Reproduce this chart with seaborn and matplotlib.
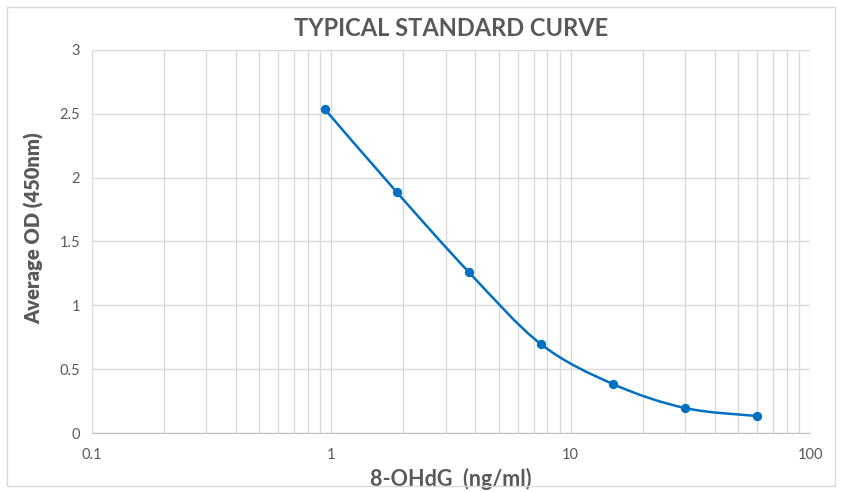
import numpy as np
import pandas as pd
import seaborn as sns
import matplotlib.pyplot as plt
from matplotlib.path import Path
from matplotlib.patches import PathPatch, Rectangle
from matplotlib.ticker import FixedLocator, LogLocator, NullFormatter

# standard curve data
conc = [0.938, 1.875, 3.75, 7.5, 15, 30, 60]
od = [2.537, 1.887, 1.261, 0.697, 0.384, 0.196, 0.133]
x_ticks = [0.1, 1, 10, 100]
x_tick_labels = ["0.1", "1", "10", "100"]
y_ticks = [0, 0.5, 1, 1.5, 2, 2.5, 3]
y_tick_labels = ["0", "0.5", "1", "1.5", "2", "2.5", "3"]

df = pd.DataFrame({"conc": conc, "od": od})

blue = "#0070C0"
grid_c = "#D9D9D9"
text_c = "#595959"

sns.set_style("white")
plt.rcParams["font.family"] = ["Lato", "DejaVu Sans"]

fig = plt.figure(figsize=(8.42, 4.92), dpi=100)
fig.patches.append(Rectangle((0.008, 0.012), 0.984, 0.974, transform=fig.transFigure,
                             fill=False, edgecolor=grid_c, linewidth=1))
ax = fig.add_axes([0.1093, 0.1199, 0.8527, 0.7785])
ax.set_xscale("log")
ax.set_xlim(0.1, 100)
ax.set_ylim(0, 3)

# smoothed line (excel style), bezier control points worked out in log-x / y space
u = np.log10(df["conc"].values) * 239.3
v = df["od"].values * 127.7
pts = np.column_stack([u, v])
verts = [pts[0]]
codes = [Path.MOVETO]
n = len(pts)
for i in range(n - 1):
    p0 = pts[i - 1] if i > 0 else pts[i]
    p3 = pts[i + 2] if i + 2 < n else pts[i + 1]
    c1 = pts[i] + (pts[i + 1] - p0) / 6
    c2 = pts[i + 1] - (p3 - pts[i]) / 6
    verts += [c1, c2, pts[i + 1]]
    codes += [Path.CURVE4] * 3
verts = np.array(verts)
verts_data = np.column_stack([10 ** (verts[:, 0] / 239.3), verts[:, 1] / 127.7])
ax.add_patch(PathPatch(Path(verts_data, codes), facecolor="none", edgecolor=blue,
                       linewidth=1.8, zorder=3))

sns.scatterplot(data=df, x="conc", y="od", ax=ax, color=blue, s=45,
                edgecolor=blue, linewidth=0, zorder=4)

ax.xaxis.set_major_locator(FixedLocator(x_ticks))
ax.set_xticklabels(x_tick_labels)
ax.xaxis.set_minor_locator(LogLocator(base=10, subs=np.arange(2, 10)))
ax.xaxis.set_minor_formatter(NullFormatter())
ax.set_yticks(y_ticks)
ax.set_yticklabels(y_tick_labels)

ax.grid(True, which="both", axis="x", color=grid_c, linewidth=1)
ax.grid(True, which="major", axis="y", color=grid_c, linewidth=1)
ax.set_axisbelow(True)
for s in ax.spines.values():
    s.set_visible(False)
ax.spines["bottom"].set_visible(True)
ax.spines["bottom"].set_color("#BFBFBF")

ax.tick_params(axis="both", which="major", length=5, width=1, color="#BFBFBF",
               labelcolor=text_c, labelsize=10.5, direction="out")
ax.tick_params(axis="x", which="minor", length=0)
ax.tick_params(axis="x", pad=6)

ax.set_title("TYPICAL STANDARD CURVE", fontsize=17, fontweight="bold", color=text_c, pad=10)
ax.set_xlabel("8-OHdG  (ng/ml)", fontsize=15.5, fontweight="bold", color=text_c, labelpad=4)
ax.set_ylabel("Average OD (450nm)", fontsize=14.5, fontweight="heavy", color=text_c)
ax.yaxis.set_label_coords(-0.067, 0.534)

fig.savefig("out.png", dpi=100)
